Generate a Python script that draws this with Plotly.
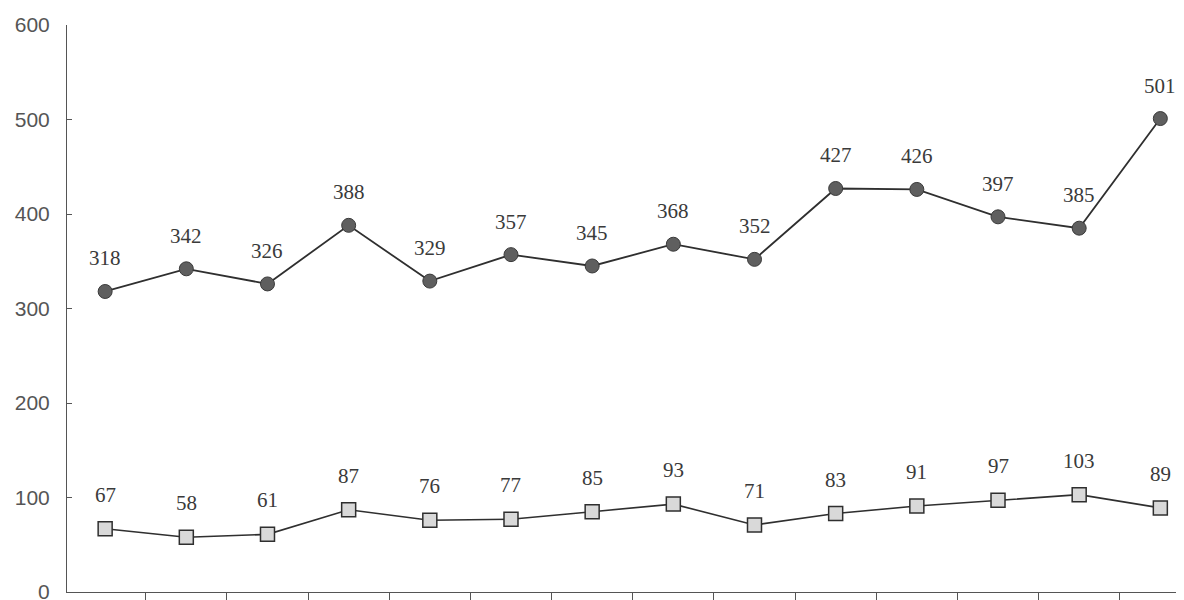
import plotly.graph_objects as go

categories = list(range(14))
series_top = [318, 342, 326, 388, 329, 357, 345, 368, 352, 427, 426, 397, 385, 501]
series_bottom = [67, 58, 61, 87, 76, 77, 85, 93, 71, 83, 91, 97, 103, 89]
y_ticks = [0, 100, 200, 300, 400, 500, 600]

fig = go.Figure()
fig.add_trace(go.Scatter(
    x=categories, y=series_top, mode="lines+markers",
    line=dict(color="#2f2f2f", width=1.8),
    marker=dict(symbol="circle", size=14, color="#5f5f5f", line=dict(color="#3a3a3a", width=1)),
    showlegend=False, hoverinfo="skip"))
fig.add_trace(go.Scatter(
    x=categories, y=series_bottom, mode="lines+markers",
    line=dict(color="#2f2f2f", width=1.6),
    marker=dict(symbol="square", size=14, color="#d9d9d9", line=dict(color="#2f2f2f", width=1.5)),
    showlegend=False, hoverinfo="skip"))

annos = []
for x, v in zip(categories, series_top):
    annos.append(dict(x=x, y=v, text=str(v), showarrow=False, yshift=33,
                      font=dict(family="Liberation Serif, Times New Roman, serif", size=21, color="#3a3a3a")))
for x, v in zip(categories, series_bottom):
    annos.append(dict(x=x, y=v, text=str(v), showarrow=False, yshift=34,
                      font=dict(family="Liberation Serif, Times New Roman, serif", size=21, color="#3a3a3a")))

fig.update_layout(
    width=1184, height=600,
    margin=dict(l=59, r=0, t=17, b=16, autoexpand=False),
    paper_bgcolor="white", plot_bgcolor="white",
    annotations=annos,
    xaxis=dict(range=[-0.47, 13.39], tickvals=[c + 0.5 for c in categories], showticklabels=False,
               ticks="outside", ticklen=12, tickcolor="#555", tickwidth=1,
               showline=True, linecolor="#555", linewidth=1, showgrid=False, zeroline=False),
    yaxis=dict(range=[0, 600], tickvals=y_ticks, ticks="inside", ticklen=5, tickcolor="#555",
               showline=True, linecolor="#555", linewidth=1, showgrid=False, zeroline=False,
               ticklabelstandoff=12,
               tickfont=dict(family="Liberation Sans, Arial, sans-serif", size=21, color="#555")),
)
fig.write_html("out.html")
